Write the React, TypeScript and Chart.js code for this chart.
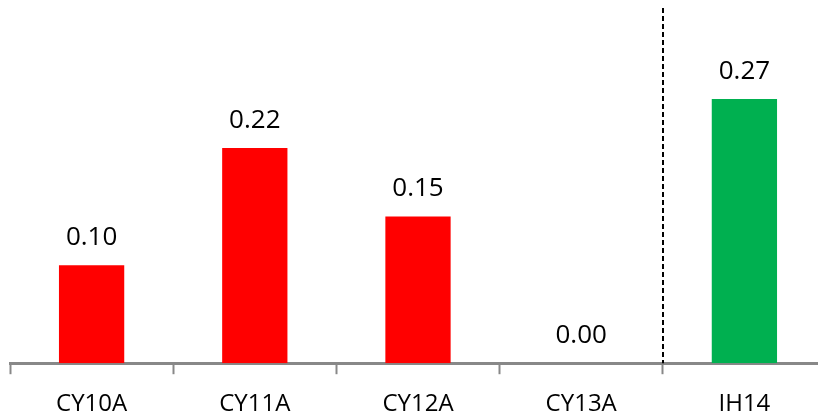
import React, { useEffect, useRef } from "react";
import { Chart, registerables } from "chart.js";

Chart.register(...registerables);

const categories = ["CY10A", "CY11A", "CY12A", "CY13A", "IH14"];
const values = [0.1, 0.22, 0.15, 0.0, 0.27];
const barColors = ["#FF0000", "#FF0000", "#FF0000", "#FF0000", "#00B050"];
const yMax = 0.363;
const dividerAfterIndex = 3;

const FONT = "'Open Sans', 'Liberation Sans', sans-serif";

const valueLabels = {
  id: "valueLabels",
  afterDatasetsDraw(chart: any) {
    const ctx = chart.ctx;
    const meta = chart.getDatasetMeta(0);
    ctx.save();
    ctx.fillStyle = "#000";
    ctx.font = `26px ${FONT}`;
    ctx.textAlign = "center";
    ctx.textBaseline = "alphabetic";
    meta.data.forEach((bar: any, i: number) => {
      ctx.fillText(values[i].toFixed(2), bar.x, bar.y - 20);
    });
    ctx.restore();
  },
};

const divider = {
  id: "divider",
  afterDatasetsDraw(chart: any) {
    const ctx = chart.ctx;
    const xs = chart.scales.x;
    const x = Math.round(
      (xs.getPixelForValue(dividerAfterIndex) + xs.getPixelForValue(dividerAfterIndex + 1)) / 2
    );
    const { top, bottom } = chart.chartArea;
    ctx.save();
    ctx.strokeStyle = "#000";
    ctx.lineWidth = 2;
    ctx.setLineDash([5, 3]);
    ctx.beginPath();
    ctx.moveTo(x, top);
    ctx.lineTo(x, bottom);
    ctx.stroke();
    ctx.restore();
  },
};

export default function App() {
  const ref = useRef<HTMLCanvasElement>(null);
  useEffect(() => {
    if (!ref.current) return;
    const chart = new Chart(ref.current, {
      type: "bar",
      data: {
        labels: categories,
        datasets: [
          {
            data: values,
            backgroundColor: barColors,
            borderWidth: 0,
            categoryPercentage: 1,
            barPercentage: 0.4,
          },
        ],
      },
      options: {
        animation: false,
        responsive: false,
        maintainAspectRatio: false,
        layout: { padding: { left: 10, right: 6, top: 8, bottom: -19 } },
        plugins: { legend: { display: false }, tooltip: { enabled: false } },
        scales: {
          x: {
            grid: {
              display: true,
              drawOnChartArea: false,
              drawTicks: true,
              tickLength: 11,
              tickWidth: 2,
              tickColor: "#888888",
              offset: true,
            },
            border: { display: true, color: "#888888", width: 3 },
            ticks: {
              color: "#000",
              font: { family: FONT, size: 24 },
              padding: 16,
            },
          },
          y: {
            display: false,
            min: 0,
            max: yMax,
          },
        },
      },
      plugins: [valueLabels, divider],
    });
    return () => chart.destroy();
  }, []);
  return (
    <div style={{ position: "fixed", left: 0, top: 0, width: 818, height: 416, overflow: "hidden", background: "#fff" }}>
      <canvas ref={ref} width={832} height={416} style={{ display: "block" }} />
    </div>
  );
}
